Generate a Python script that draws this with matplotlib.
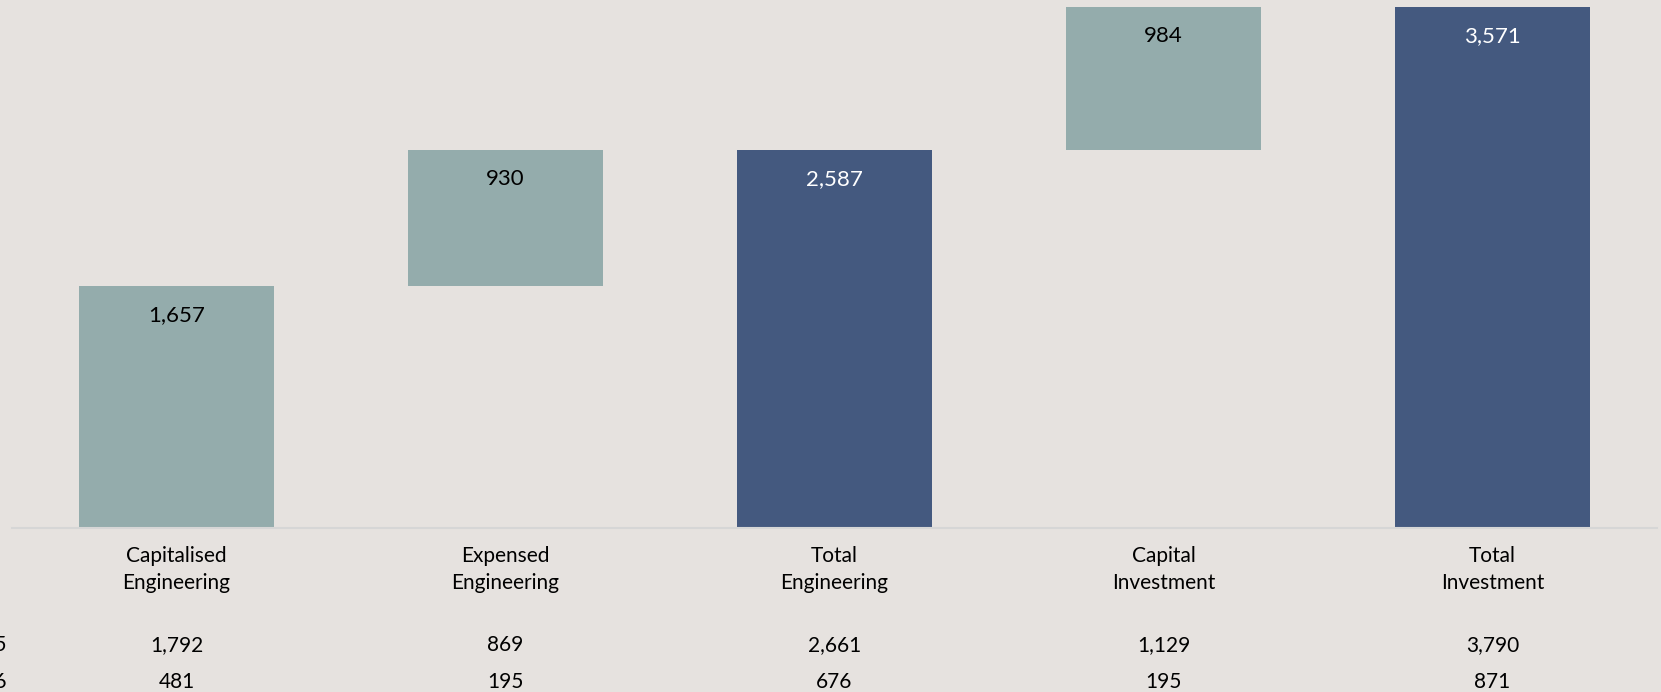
"""Engineering / investment waterfall."""
import matplotlib.pyplot as plt
import numpy as np

categories = ["Capitalised\nEngineering", "Expensed\nEngineering", "Total\nEngineering",
              "Capital\nInvestment", "Total\nInvestment"]
values = [1657, 930, 2587, 984, 3571]
is_total = [False, False, True, False, True]

row_labels = ["2025", "2026"]
row_2025 = [1792, 869, 2661, 1129, 3790]
row_2026 = [481, 195, 676, 195, 871]

BG = "#E6E2DF"
STEP = "#94ACAC"
TOTAL = "#44597F"

plt.rcParams["font.family"] = ["Lato", "DejaVu Sans"]

fig = plt.figure(figsize=(16.61, 6.92), dpi=100, facecolor=BG)
ax = fig.add_axes([12 / 1661, 1 - 528 / 692, 1645 / 1661, 528 / 692])
ax.set_facecolor(BG)

# Waterfall: steps start at the running total, totals start at zero.
bottoms = []
running = 0
for v, tot in zip(values, is_total):
    if tot:
        bottoms.append(0)
        running = v
    else:
        bottoms.append(running)
        running += v

x = np.arange(len(values))
colors = [TOTAL if t else STEP for t in is_total]
ax.bar(x, values, bottom=bottoms, width=0.59, color=colors, zorder=2)

for xi, v, b, t in zip(x, values, bottoms, is_total):
    ax.annotate(f"{v:,}", (xi, b + v), xytext=(0, -21), textcoords="offset points",
                ha="center", va="center", fontsize=16,
                color="white" if t else "black")

ax.set_xlim(-0.5, len(values) - 0.5)
ax.set_ylim(0, 3616)
ax.set_yticks([])
ax.set_xticks(x)
ax.set_xticklabels(categories, fontsize=15, linespacing=1.45)
ax.tick_params(axis="x", length=0, pad=13)

for side in ["top", "right", "left"]:
    ax.spines[side].set_visible(False)
ax.spines["bottom"].set_color("#D6D6D6")
ax.spines["bottom"].set_linewidth(1.5)

# Comparison rows under the chart.
for row, yy, lab in [(row_2025, -117 / 528, row_labels[0]), (row_2026, -154 / 528, row_labels[1])]:
    for xi, v in zip(x, row):
        ax.text(xi, yy, f"{v:,}", transform=ax.get_xaxis_transform(),
                ha="center", va="center", fontsize=15)
    fig.text(6.5 / 1661, 1 - (528 - yy * 528) / 692, lab, ha="right", va="center", fontsize=15)

fig.savefig("out.png", dpi=100, facecolor=BG)
